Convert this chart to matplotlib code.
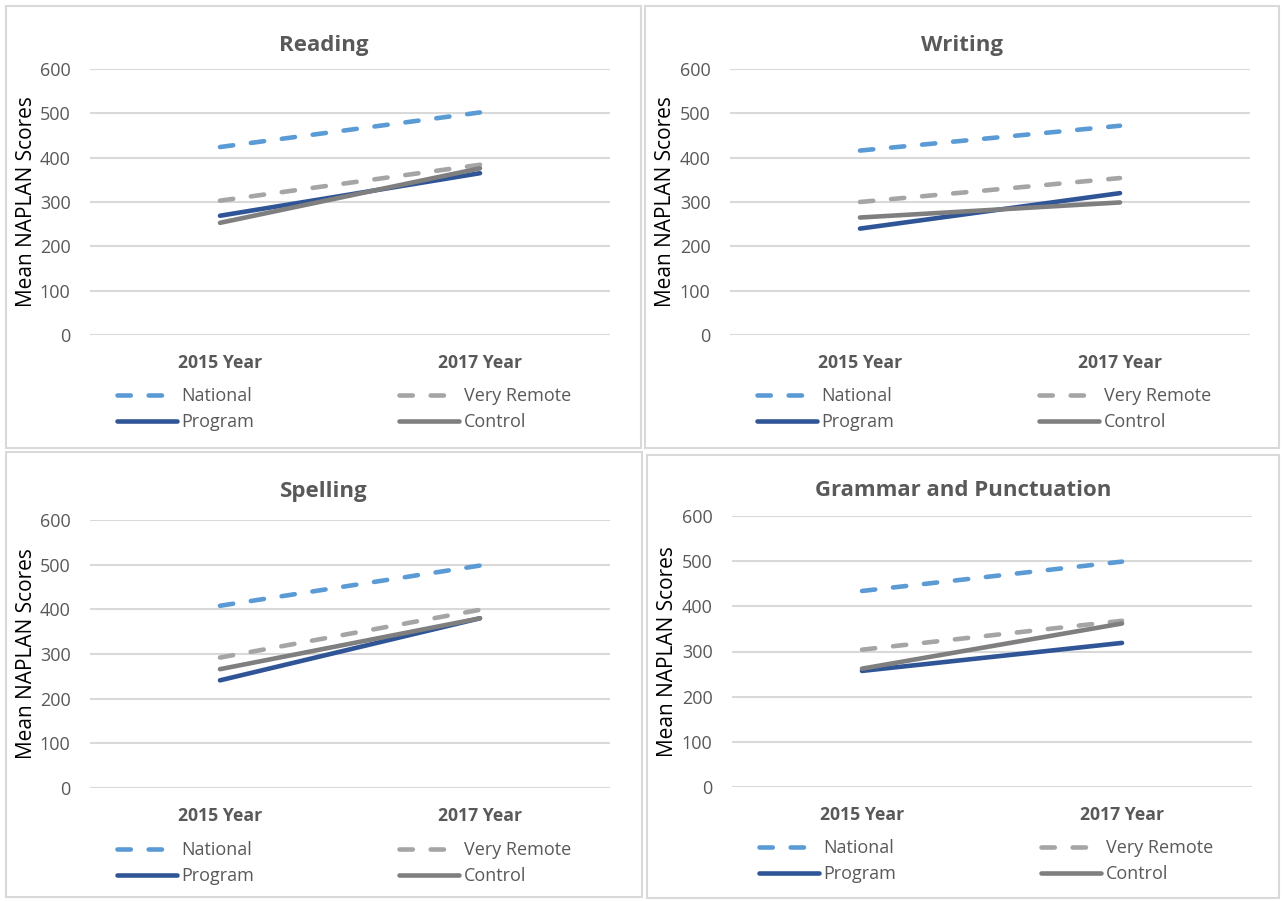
import matplotlib
matplotlib.use("Agg")
import matplotlib.pyplot as plt
from matplotlib.patches import Rectangle

plt.rcParams['font.family'] = ['Open Sans', 'DejaVu Sans']

# ---- data ----
years = ["2015 Year", "2017 Year"]
subjects = ["Reading", "Writing", "Spelling", "Grammar and Punctuation"]
series_names = ["National", "Very Remote", "Program", "Control"]
national = [[424, 502], [416, 472], [408, 498], [434, 499]]
very_remote = [[303, 384], [300, 354], [292, 399], [304, 368]]
program = [[269, 365], [240, 320], [241, 380], [257, 319]]
control = [[253, 376], [265, 299], [266, 380], [262, 362]]
y_ticks = [0, 100, 200, 300, 400, 500, 600]

W, H = 1282, 901
fig = plt.figure(figsize=(W / 100, H / 100), dpi=100)

def frect(x0, y0, x1, y1):
    return [x0 / W, 1 - y1 / H, (x1 - x0) / W, (y1 - y0) / H]

# panel layout in pixels: border, axes, title y, legend top y
panels = [
    dict(border=(6, 6, 641, 448), ax=(90, 69, 610, 335), title_y=45, leg_top=387),
    dict(border=(645, 6, 1279, 448), ax=(730, 69, 1250, 335), title_y=45, leg_top=387),
    dict(border=(6, 452, 642, 897), ax=(90, 520, 610, 788), title_y=492, leg_top=841),
    dict(border=(647, 455, 1279, 898), ax=(732, 516, 1252, 787), title_y=491, leg_top=839),
]

GRID = "#D9D9D9"
TXT = "#595959"
styles = [
    dict(color="#5B9BD5", dashed=True),
    dict(color="#A5A5A5", dashed=True),
    dict(color="#2F5597", dashed=False),
    dict(color="#7F7F7F", dashed=False),
]

for i, p in enumerate(panels):
    bx0, by0, bx1, by1 = p["border"]
    fig.patches.append(Rectangle((bx0 / W, 1 - by1 / H), (bx1 - bx0) / W, (by1 - by0) / H,
                                 transform=fig.transFigure, fill=False,
                                 edgecolor=GRID, lw=1.5, zorder=0))
    ax = fig.add_axes(frect(*p["ax"]))
    data = [national[i], very_remote[i], program[i], control[i]]
    handles = []
    for name, vals, st in zip(series_names, data, styles):
        ln, = ax.plot([0, 1], vals, color=st["color"], lw=3.3, label=name,
                      solid_capstyle='round', dash_capstyle='round', zorder=3)
        if st["dashed"]:
            ln.set_dashes((2.9, 3.9))
        handles.append(ln)
    ax.set_xlim(-0.5, 1.5)
    ax.set_ylim(0, 600)
    ax.set_yticks(y_ticks)
    ax.set_xticks([0, 1])
    ax.set_xticklabels(years, fontweight='bold', color=TXT, fontsize=12.7)
    ax.tick_params(axis='x', length=0, pad=14)
    ax.tick_params(axis='y', length=0, pad=14, labelcolor=TXT, labelsize=13)
    ax.grid(axis='y', color=GRID, lw=1.5, zorder=0)
    for s in ax.spines.values():
        s.set_visible(False)
    ax.set_ylabel("Mean NAPLAN Scores", fontsize=15, color="black")
    axw = p["ax"][2] - p["ax"][0]
    ax.yaxis.set_label_coords((bx0 + 31 - p["ax"][0]) / axw, 0.5)
    # title centered on panel
    fig.text(((bx0 + bx1) / 2) / W, 1 - p["title_y"] / H, subjects[i],
             ha='center', va='center', fontsize=16, fontweight='bold', color=TXT)
    # legend: rows National/Very Remote, Program/Control
    order = [handles[0], handles[2], handles[1], handles[3]]
    ax.legend(order, [h.get_label() for h in order], ncol=2, frameon=False,
              loc='upper left',
              bbox_to_anchor=((p["ax"][0] + 27) / W, 1 - p["leg_top"] / H),
              bbox_transform=fig.transFigure, borderpad=0, borderaxespad=0,
              handlelength=3.3, handletextpad=0.28, columnspacing=8.0,
              labelspacing=0.45, fontsize=13, labelcolor=TXT)

fig.savefig("out.png", dpi=100, facecolor="white")
